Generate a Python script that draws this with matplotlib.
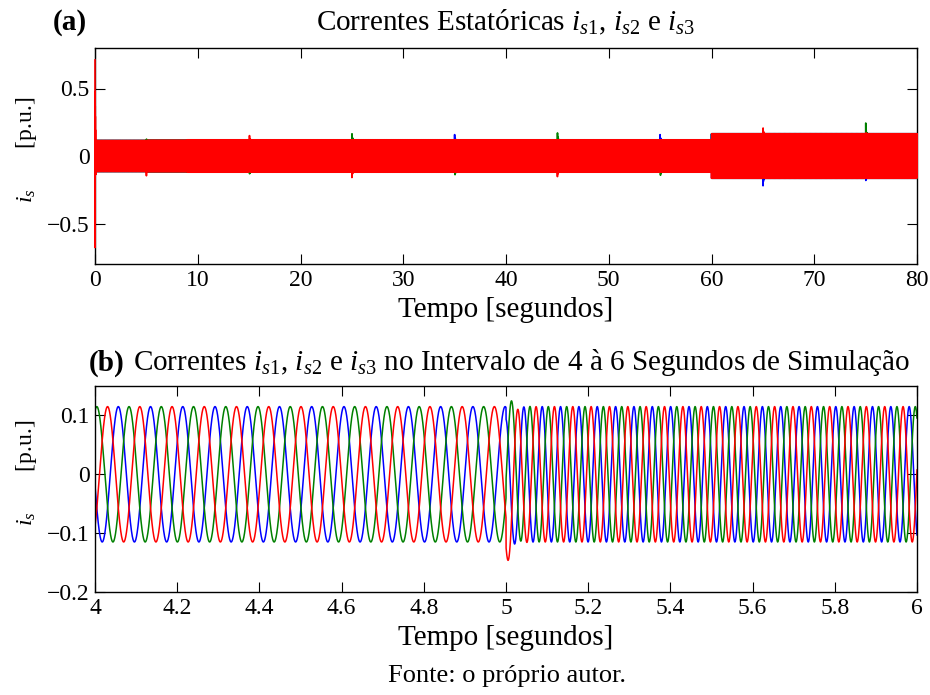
import numpy as np
import matplotlib
matplotlib.use("Agg")
import matplotlib.pyplot as plt

plt.rcParams['font.family'] = ['Liberation Serif', 'DejaVu Serif']
plt.rcParams['mathtext.fontset'] = 'custom'
plt.rcParams['mathtext.rm'] = 'Liberation Serif'
plt.rcParams['mathtext.it'] = 'Liberation Serif:italic'
plt.rcParams['mathtext.bf'] = 'Liberation Serif:bold'

# --- simulation profile -------------------------------------------------
# stator frequency (Hz) held constant between breakpoints (s)
freq_breaks = [0, 5, 15, 25, 35, 45, 55, 65, 75, 80]
freq_values = [12.75, 22.4, 18.0, 25.0, 20.0, 27.0, 22.0, 29.0, 24.0]
# current amplitude (p.u.) between breakpoints (s)
amp_breaks = [0, 9, 60, 80]
amp_values = [0.115, 0.12, 0.165]
# electrical angle at t = 0 (rad)
phase0 = 1.74

# transients after each reference step: time (s), decay (s), offsets per phase (p.u.)
event_times = [5, 15, 25, 35, 45, 55, 65, 75]
event_tau = [0.012, 0.04, 0.04, 0.04, 0.04, 0.04, 0.04, 0.04]
offset_s1 = [-0.02, 0.0, 0.0, 0.04, 0.0, 0.04, -0.083, -0.026]
offset_s2 = [0.03, -0.035, 0.06, -0.05, 0.067, -0.055, 0.0, 0.108]
offset_s3 = [-0.05, 0.075, -0.045, 0.0, -0.037, 0.0, 0.073, 0.01]

# start-up inrush: peak per phase (p.u.), decay (s), ringing frequency (Hz)
startup_peak = [0.15, -0.15, 0.8]
startup_tau = 0.02
startup_freq = 100.0

phase_shift = [0.0, -2 * np.pi / 3, 2 * np.pi / 3]
phase_offsets = [offset_s1, offset_s2, offset_s3]
colors = ['#0000ff', '#008000', '#ff0000']


def electrical_angle(t):
    fb = np.asarray(freq_breaks, float)
    fv = np.asarray(freq_values, float)
    cum = np.concatenate([[0.0], np.cumsum(fv * np.diff(fb))])
    idx = np.clip(np.searchsorted(fb, t, side='right') - 1, 0, len(fv) - 1)
    return phase0 + 2 * np.pi * (cum[idx] + fv[idx] * (t - fb[idx]))


def amplitude(t):
    ab = np.asarray(amp_breaks, float)
    av = np.asarray(amp_values, float)
    idx = np.clip(np.searchsorted(ab, t, side='right') - 1, 0, len(av) - 1)
    return av[idx]


def stator_current(t, k):
    i = amplitude(t) * np.cos(electrical_angle(t) + phase_shift[k])
    for te, tau, d in zip(event_times, event_tau, phase_offsets[k]):
        after = t >= te
        i = i + np.where(after, d * np.exp(-np.clip(t - te, 0, None) / tau), 0.0)
    i = i + startup_peak[k] * np.exp(-t / startup_tau) * np.cos(2 * np.pi * startup_freq * t)
    return i


t_full = np.linspace(0, 80, 320001)
t_zoom = np.linspace(4, 6, 40001)

fig = plt.figure(figsize=(9.3, 6.95), dpi=100)
W, H = 930, 695


def box(x0, y0, x1, y1):
    return [x0 / W, 1 - y1 / H, (x1 - x0) / W, (y1 - y0) / H]


ax1 = fig.add_axes(box(95, 48, 917, 264))
ax2 = fig.add_axes(box(95, 386, 917, 592))

for k in range(3):
    ax1.plot(t_full, stator_current(t_full, k), color=colors[k], lw=1.2,
             zorder=3, clip_on=False)
    ax2.plot(t_zoom, stator_current(t_zoom, k), color=colors[k], lw=1.1)

tick_fs = 17
label_fs = 21
title_fs = 21
ylabel_fs = 17

xticks_a = [0, 10, 20, 30, 40, 50, 60, 70, 80]
yticks_a = [-0.5, 0, 0.5]
yticklabels_a = ['\u22120.5', '0', '0.5']
xticks_b = [4, 4.2, 4.4, 4.6, 4.8, 5, 5.2, 5.4, 5.6, 5.8, 6]
xticklabels_b = ['4', '4.2', '4.4', '4.6', '4.8', '5', '5.2', '5.4', '5.6', '5.8', '6']
yticks_b = [-0.2, -0.1, 0, 0.1]
yticklabels_b = ['\u22120.2', '\u22120.1', '0', '0.1']

ax1.set_xlim(0, 80)
ax1.set_ylim(-0.8, 0.8)
ax1.set_xticks(xticks_a)
ax1.set_xticklabels([str(v) for v in xticks_a])
ax1.set_yticks(yticks_a)
ax1.set_yticklabels(yticklabels_a)

ax2.set_xlim(4, 6)
ax2.set_ylim(-0.2, 0.15)
ax2.set_xticks(xticks_b)
ax2.set_xticklabels(xticklabels_b)
ax2.set_yticks(yticks_b)
ax2.set_yticklabels(yticklabels_b)

for ax in (ax1, ax2):
    ax.tick_params(direction='in', length=7, width=0.8, top=True, right=True,
                   labelsize=tick_fs)
    ax.tick_params(axis='x', pad=4)
    ax.tick_params(axis='y', pad=4)
    for s in ax.spines.values():
        s.set_linewidth(1.0)
    ax.set_xlabel('Tempo [segundos]', fontsize=label_fs)
    ax.set_ylabel(r'$i_s$' + ' ' * 7 + '[p.u.]', fontsize=ylabel_fs)

ax1.yaxis.set_label_coords(-0.068, 0.53)
ax2.yaxis.set_label_coords(-0.068, 0.58)
ax1.xaxis.set_label_coords(0.5, -0.155)
ax2.xaxis.set_label_coords(0.5, -0.16)

fig.text(70 / W, 1 - 22 / H, '(a)', fontsize=title_fs, fontweight='bold',
         ha='center', va='center')
fig.text(505 / W, 1 - 22 / H, r'Correntes Estatóricas $i_{s1}$, $i_{s2}$ e $i_{s3}$',
         fontsize=title_fs, ha='center', va='center')
fig.text(107 / W, 1 - 363 / H, '(b)', fontsize=title_fs, fontweight='bold',
         ha='center', va='center')
fig.text(522 / W, 1 - 363 / H,
         r'Correntes $i_{s1}$, $i_{s2}$ e $i_{s3}$ no Intervalo de 4 à 6 Segundos de Simulação',
         fontsize=title_fs, ha='center', va='center')
fig.text(507 / W, 1 - 676 / H, 'Fonte: o próprio autor.', fontsize=19,
         ha='center', va='center')

fig.savefig('out.png', dpi=100)
